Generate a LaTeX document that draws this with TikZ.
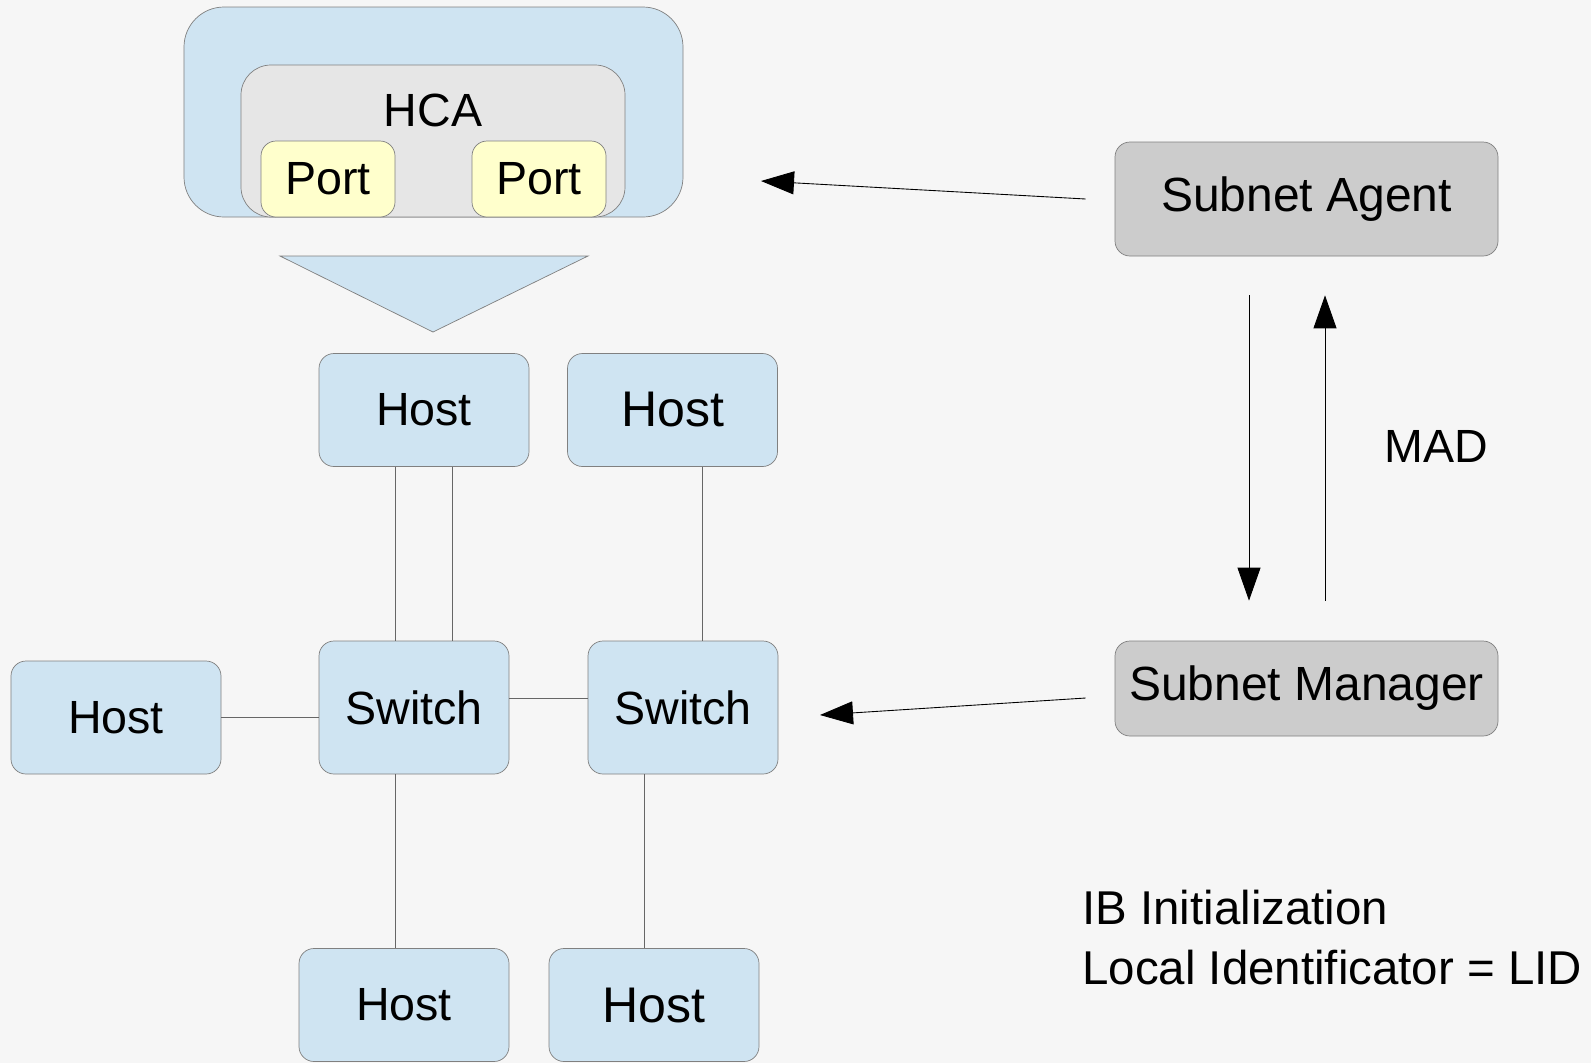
\documentclass[tikz,border=0pt]{standalone}
\usepackage{fontspec}
\setmainfont{Liberation Sans}
\usetikzlibrary{arrows.meta,calc}

\definecolor{boxBlue}{RGB}{207,228,242}
\definecolor{boxGray}{RGB}{230,230,230}
\definecolor{portYellow}{RGB}{255,255,204}
\definecolor{agentGray}{RGB}{204,204,204}
\definecolor{edgeGray}{RGB}{128,128,128}
\definecolor{bgGray}{RGB}{246,246,246}

\begin{document}
\begin{tikzpicture}[
        x=0.2mm, y=-0.2mm,
        every node/.style={font=\fontsize{26.5}{33.6}\selectfont},
        blueNode/.style={rectangle, rounded corners=3mm, draw=edgeGray, fill=boxBlue, inner sep=0pt},
        hostNode/.style={blueNode, minimum width=42mm, minimum height=22.6mm},
        bigHost/.style={hostNode, font=\fontsize{28.5}{33.6}\selectfont},
        switchNode/.style={blueNode, minimum width=38mm, minimum height=26.6mm},
        portNode/.style={rectangle, rounded corners=3mm, draw=edgeGray, fill=portYellow, minimum width=26.8mm, minimum height=15.2mm, inner sep=0pt},
        smNode/.style={rectangle, rounded corners=3mm, draw=edgeGray, fill=agentGray, minimum width=76.6mm, inner sep=0pt, font=\fontsize{27.3}{33.6}\selectfont},
        link/.style={draw=black!60, line width=0.5pt},
        msg/.style={draw=black, line width=0.5pt, -{Triangle[length=6.6mm, width=4.6mm]}}
    ]
        % Background
        \fill[bgGray] (0,0) rectangle (1591,1063);
        \useasboundingbox (0,0) rectangle (1591,1063);

        % HCA block
        \node[rectangle, rounded corners=8mm, draw=edgeGray, fill=boxBlue, minimum width=99.8mm, minimum height=42mm] (hcaOuter) at (433.5,112) {};
        \node[rectangle, rounded corners=6mm, draw=edgeGray, fill=boxGray, minimum width=76.8mm, minimum height=30.4mm] (hca) at (433,141) {};
        \node (hcaLabel) at (433,110) {HCA};
        \node[portNode] (portA) at (328,179) {Port};
        \node[portNode] (portB) at (539,179) {Port};
        \draw[draw=edgeGray, fill=boxBlue] (280,256) -- (588,256) -- (433,332) -- cycle;

        % Fabric
        \node[hostNode] (hostA) at (424,410) {Host};
        \node[bigHost] (hostB) at (672.5,410) {Host};
        \node[switchNode] (switchA) at (414,707.5) {Switch};
        \node[switchNode] (switchB) at (683,707.5) {Switch};
        \node[hostNode] (hostC) at (116,717.5) {Host};
        \node[hostNode] (hostD) at (404,1005) {Host};
        \node[bigHost] (hostE) at (654,1005) {Host};

        % Subnet management
        \node[smNode, minimum height=22.8mm] (agent) at (1306.5,199) {Subnet Agent};
        \node[smNode, minimum height=19mm] (manager) at (1306.5,688.5) {Subnet Manager};
        \coordinate (hcaIn) at (761,181);
        \coordinate (switchIn) at (820,715);

        % Labels
        \node (mad) at (1436,446) {MAD};
        \node[align=left, anchor=base west, inner sep=0pt, font=\fontsize{27}{33.6}\selectfont] (ibText) at (1082,984) {IB Initialization\\Local Identificator = LID};

        % Edges
        \draw[link] ([xshift=-5.8mm]hostA.south) -- ([xshift=-5.8mm]hostA.south |- switchA.north);
        \draw[link] ([xshift=5.6mm]hostA.south) -- ([xshift=5.6mm]hostA.south |- switchA.north);
        \draw[link] ([xshift=5.9mm]hostB.south) -- ([xshift=5.9mm]hostB.south |- switchB.north);
        \draw[link] (hostC.east) -- (hostC.east -| switchA.west);
        \draw[link] ([yshift=1.9mm]switchA.east) -- ([yshift=1.9mm]switchA.east -| switchB.west);
        \draw[link] ([xshift=-3.8mm]switchA.south) -- ([xshift=-3.8mm]switchA.south |- hostD.north);
        \draw[link] ([xshift=-7.8mm]switchB.south) -- ([xshift=-7.8mm]switchB.south |- hostE.north);

        % Messages
        \draw[msg] ([xshift=-5.8mm]agent.west) -- (hcaIn);
        \draw[msg] ([xshift=-5.8mm,yshift=-1.9mm]manager.west) -- (switchIn);
        \draw[msg] ([xshift=-11.5mm,yshift=-7.8mm]agent.south) -- ([xshift=-11.5mm,yshift=8mm]manager.north);
        \draw[msg] ([xshift=3.7mm,yshift=8mm]manager.north) -- ([xshift=3.7mm,yshift=-7.8mm]agent.south);
    \end{tikzpicture}
\end{document}
